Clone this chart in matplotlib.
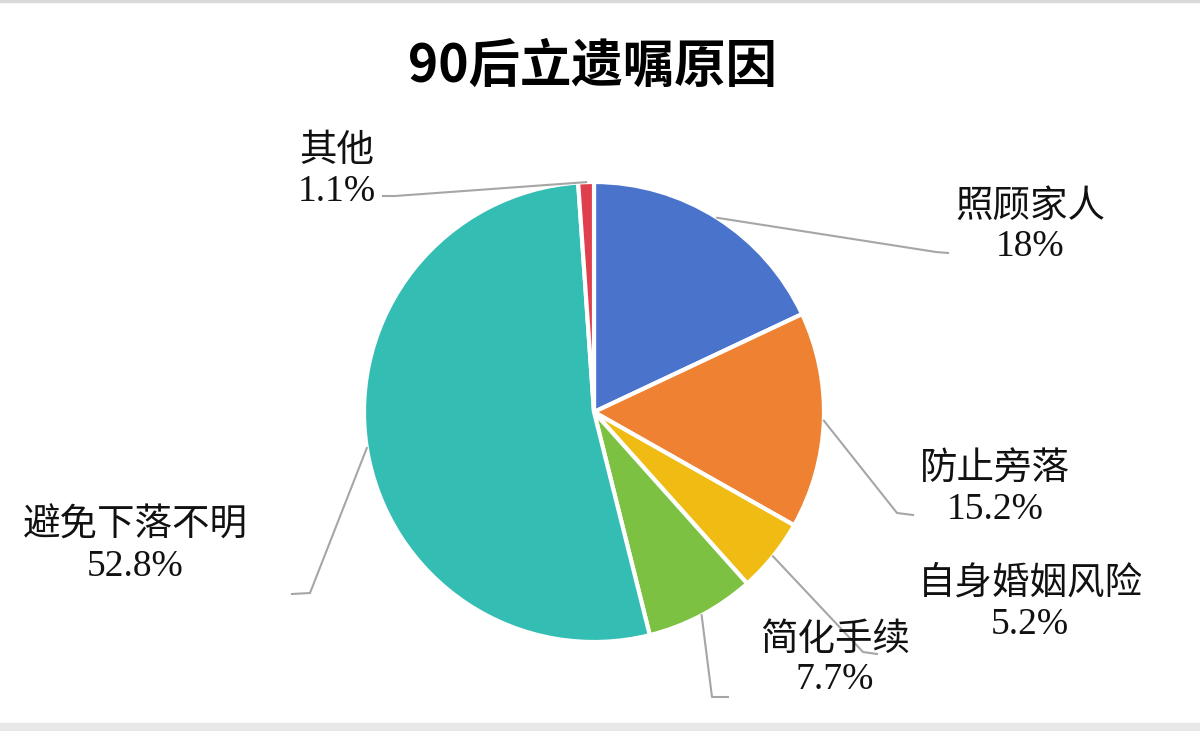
import numpy as np
import matplotlib.pyplot as plt
from matplotlib.patches import Rectangle

# data
labels = ['照顾家人', '防止旁落', '自身婚姻风险', '简化手续', '避免下落不明', '其他']
values = [18, 15.2, 5.2, 7.7, 52.8, 1.1]
pct_text = ['18%', '15.2%', '5.2%', '7.7%', '52.8%', '1.1%']
colors = ['#4a74cc', '#ee8232', '#f0bb12', '#7dc142', '#33bdb3', '#e0404d']

plt.rcParams['font.family'] = ['Liberation Serif', 'Noto Sans CJK SC']

W, H = 1200, 731
fig = plt.figure(figsize=(12, 7.31), dpi=100)
ax = fig.add_axes([0, 0, 1, 1])
ax.set_xlim(0, W)
ax.set_ylim(0, H)
ax.set_aspect('equal')
ax.axis('off')

cx, cy, r = 594, H - 412, 230
wedges, _ = ax.pie(values, colors=colors, startangle=90, counterclock=False,
                   center=(cx, cy), radius=r, frame=True,
                   wedgeprops=dict(edgecolor='white', linewidth=3))
ax.set_xlim(0, W)
ax.set_ylim(0, H)
ax.axis('off')

# label layout (pixel coords from top-left): text centre, elbow, line end
layout = [
    ((1030, 227), (936, 252), (948, 253)),
    ((995, 490), (897, 513), (913, 515)),
    ((1030, 604), (863, 652), (877, 654)),
    ((835, 660), (712, 697), (728, 697)),
    ((135, 546), (310, 593), (292, 594)),
    ((337, 172), (395, 196), (383, 196)),
]

for w, lab, pt, (tc, elbow, end) in zip(wedges, labels, pct_text, layout):
    ang = np.deg2rad((w.theta1 + w.theta2) / 2)
    sx, sy = cx + r * np.cos(ang), cy + r * np.sin(ang)
    xs = [sx, elbow[0], end[0]]
    ys = [sy, H - elbow[1], H - end[1]]
    ax.plot(xs, ys, color='#a6a6a6', lw=1.5, zorder=1)
    ax.text(tc[0], H - tc[1], lab + '\n' + pt, ha='center', va='center',
            fontsize=27, linespacing=1.2, color='#111111')

ax.text(592, H - 66, '90后立遗嘱原因', ha='center', va='center',
        fontsize=37, fontweight='bold', color='black',
        family=['Noto Sans CJK SC'])

# thin frame bands at top and bottom
ax.add_patch(Rectangle((0, H - 2), W, 2, color='#d9d9d9', clip_on=False))
ax.add_patch(Rectangle((0, 0), W, 8, color='#e8e8e8', clip_on=False))

fig.savefig('out.png', dpi=100)
